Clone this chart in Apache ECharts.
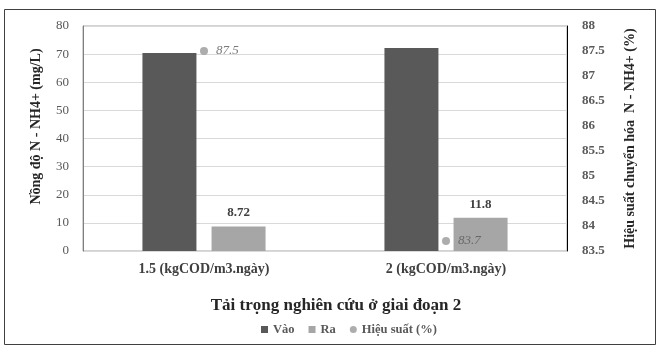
<!DOCTYPE html>
<html>
<head>
<meta charset="utf-8">
<script src="https://cdn.jsdelivr.net/npm/echarts@6/dist/echarts.min.js"></script>
<style>
    html, body { margin: 0; padding: 0; background: #fff; }
    #main { width: 657px; height: 347px; }
</style>
</head>
<body>
<div id="main"></div>
<script>
    // du lieu
    var categories = ['1.5 (kgCOD/m3.ngày)', '2 (kgCOD/m3.ngày)'];
    var vao = [70.4, 72.2];
    var ra = [8.72, 11.8];
    var hieuSuat = [87.5, 83.7];

    var font = '"Liberation Serif", "Times New Roman", serif';
    var chart = echarts.init(document.getElementById('main'));

    var option = {
        textStyle: { fontFamily: font },
        graphic: [{
            type: 'rect',
            shape: { x: 4.5, y: 9.5, width: 651, height: 335 },
            style: { fill: 'none', stroke: '#404040', lineWidth: 1 },
            silent: true
        }],
        legend: {
            left: 256,
            top: 318,
            itemGap: 14,
            itemWidth: 7,
            itemHeight: 7,
            textStyle: { fontFamily: font, fontSize: 12.5, fontWeight: 'bold', color: '#595959' },
            data: [
                { name: 'Vào', icon: 'rect' },
                { name: 'Ra', icon: 'rect' },
                { name: 'Hiệu suất (%)', icon: 'circle' }
            ]
        },
        grid: {
            left: 83, right: 90, top: 26, bottom: 96,
            show: true, borderColor: '#a6a6a6', borderWidth: 1
        },
        xAxis: {
            type: 'category',
            data: categories,
            axisLine: { show: false },
            axisTick: { show: false },
            axisLabel: { fontFamily: font, fontSize: 14, fontWeight: 'bold', color: '#404040', margin: 11 },
            name: 'Tải trọng nghiên cứu ở giai đoạn 2',
            nameLocation: 'middle',
            nameGap: 46,
            nameTextStyle: { fontFamily: font, fontSize: 17, fontWeight: 'bold', color: '#262626', padding: [0, 0, 0, 22] }
        },
        yAxis: [{
            type: 'value',
            min: 0, max: 80, interval: 10,
            axisLine: { show: true, lineStyle: { color: '#7f7f7f' } },
            axisTick: { show: false },
            axisLabel: { fontFamily: font, fontSize: 13, color: '#595959', margin: 14 },
            splitLine: { lineStyle: { color: '#d9d9d9' } },
            name: 'Nồng độ N - NH4+ (mg/L)',
            nameLocation: 'middle',
            nameGap: 40,
            nameTextStyle: { fontFamily: font, fontSize: 14, fontWeight: 'bold', color: '#262626', padding: [0, 0, 0, 24] }
        }, {
            type: 'value',
            min: 83.5, max: 88, interval: 0.5,
            axisLine: { show: true, lineStyle: { color: '#000' } },
            axisTick: { show: false },
            axisLabel: { fontFamily: font, fontSize: 13, fontWeight: 'bold', color: '#595959', margin: 15 },
            splitLine: { show: false },
            name: 'Hiệu suất chuyển hóa  N - NH4+ (%)',
            nameLocation: 'middle',
            nameGap: 56,
            nameTextStyle: { fontFamily: font, fontSize: 14, fontWeight: 'bold', color: '#262626' }
        }],
        series: [{
            name: 'Vào',
            type: 'bar',
            data: vao,
            barWidth: 54,
            barGap: '28%',
            itemStyle: { color: '#595959' }
        }, {
            name: 'Ra',
            type: 'bar',
            data: ra,
            barWidth: 54,
            itemStyle: { color: '#a6a6a6' },
            label: {
                show: true, position: 'top', distance: 7,
                fontFamily: font, fontSize: 13, fontWeight: 'bold', color: '#404040'
            }
        }, {
            name: 'Hiệu suất (%)',
            type: 'scatter',
            yAxisIndex: 1,
            data: hieuSuat,
            symbolSize: 8,
            itemStyle: { color: '#999999' },
            label: {
                show: true, position: 'right', distance: 8,
                fontFamily: font, fontSize: 13, fontStyle: 'italic', color: '#595959'
            }
        }]
    };
    chart.setOption(option);
</script>
</body>
</html>
